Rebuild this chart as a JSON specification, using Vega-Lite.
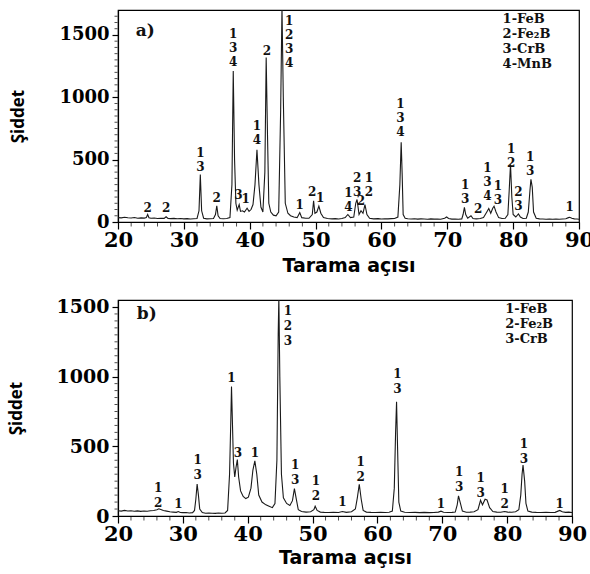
{
"$schema": "https://vega.github.io/schema/vega-lite/v6.json",
"background": "white",
"padding": {"top": 9, "left": 6, "right": 4, "bottom": 2},
"spacing": 21,
"config": {
  "view": {"stroke": "#000", "strokeWidth": 1.2},
  "axis": {"domainColor": "#000", "domainWidth": 1.2, "tickColor": "#000", "labelColor": "#000", "titleColor": "#000", "grid": false, "labelFont": "DejaVu Serif", "labelFontWeight": "bold", "labelOverlap": false, "labelFlush": false}
},
"datasets": {
  "a": [
    {"x":20.0,"y":35},{"x":20.5,"y":33},{"x":21.0,"y":38},{"x":21.5,"y":34},{"x":22.0,"y":32},{"x":22.5,"y":36},{"x":23.0,"y":30},{"x":23.5,"y":33},{"x":24.0,"y":31},{"x":24.3,"y":35},{"x":24.5,"y":60},{"x":24.7,"y":34},{"x":25.0,"y":30},{"x":25.5,"y":32},{"x":26.0,"y":28},{"x":26.5,"y":30},{"x":27.0,"y":29},{"x":27.3,"y":42},{"x":27.6,"y":28},{"x":28.0,"y":27},{"x":28.5,"y":29},{"x":29.0,"y":26},{"x":29.5,"y":28},{"x":30.0,"y":25},{"x":30.5,"y":27},{"x":31.0,"y":24},{"x":31.5,"y":26},{"x":32.0,"y":28},{"x":32.3,"y":90},{"x":32.5,"y":380},{"x":32.7,"y":90},{"x":33.0,"y":30},{"x":33.5,"y":25},{"x":34.0,"y":26},{"x":34.5,"y":28},{"x":34.8,"y":60},{"x":35.0,"y":130},{"x":35.2,"y":50},{"x":35.5,"y":28},{"x":36.0,"y":26},{"x":36.5,"y":28},{"x":37.0,"y":35},{"x":37.3,"y":300},{"x":37.5,"y":1210},{"x":37.7,"y":500},{"x":37.9,"y":150},{"x":38.1,"y":95},{"x":38.4,"y":140},{"x":38.6,"y":85},{"x":38.9,"y":90},{"x":39.2,"y":80},{"x":39.6,"y":110},{"x":39.9,"y":85},{"x":40.2,"y":100},{"x":40.5,"y":140},{"x":40.8,"y":300},{"x":41.1,"y":580},{"x":41.4,"y":300},{"x":41.7,"y":120},{"x":42.0,"y":80},{"x":42.3,"y":400},{"x":42.5,"y":1320},{"x":42.7,"y":700},{"x":42.9,"y":150},{"x":43.2,"y":80},{"x":43.6,"y":55},{"x":44.0,"y":50},{"x":44.4,"y":80},{"x":44.7,"y":900},{"x":44.9,"y":1720},{"x":45.1,"y":1000},{"x":45.4,"y":150},{"x":45.8,"y":70},{"x":46.2,"y":50},{"x":46.7,"y":40},{"x":47.2,"y":35},{"x":47.6,"y":75},{"x":47.9,"y":35},{"x":48.5,"y":30},{"x":49.0,"y":30},{"x":49.5,"y":60},{"x":49.7,"y":170},{"x":49.9,"y":70},{"x":50.2,"y":80},{"x":50.5,"y":127},{"x":50.8,"y":70},{"x":51.2,"y":35},{"x":51.8,"y":28},{"x":52.5,"y":25},{"x":53.0,"y":27},{"x":53.5,"y":24},{"x":54.0,"y":28},{"x":54.5,"y":35},{"x":54.9,"y":60},{"x":55.3,"y":35},{"x":55.8,"y":40},{"x":56.1,"y":150},{"x":56.3,"y":180},{"x":56.6,"y":60},{"x":56.9,"y":90},{"x":57.2,"y":70},{"x":57.5,"y":140},{"x":57.8,"y":60},{"x":58.2,"y":30},{"x":58.8,"y":25},{"x":59.5,"y":27},{"x":60.0,"y":24},{"x":60.5,"y":26},{"x":61.0,"y":25},{"x":61.5,"y":27},{"x":62.0,"y":28},{"x":62.5,"y":40},{"x":62.8,"y":300},{"x":63.0,"y":640},{"x":63.15,"y":380},{"x":63.3,"y":60},{"x":63.6,"y":30},{"x":64.0,"y":26},{"x":64.5,"y":24},{"x":65.0,"y":26},{"x":65.5,"y":23},{"x":66.0,"y":25},{"x":66.5,"y":24},{"x":67.0,"y":22},{"x":67.5,"y":25},{"x":68.0,"y":23},{"x":68.5,"y":24},{"x":69.0,"y":22},{"x":69.6,"y":30},{"x":69.9,"y":40},{"x":70.2,"y":28},{"x":70.7,"y":23},{"x":71.2,"y":24},{"x":71.7,"y":22},{"x":72.2,"y":25},{"x":72.4,"y":60},{"x":72.6,"y":118},{"x":72.8,"y":60},{"x":73.1,"y":30},{"x":73.6,"y":50},{"x":73.9,"y":28},{"x":74.4,"y":25},{"x":75.0,"y":28},{"x":75.5,"y":35},{"x":76.0,"y":80},{"x":76.3,"y":108},{"x":76.6,"y":70},{"x":76.9,"y":110},{"x":77.1,"y":127},{"x":77.4,"y":80},{"x":77.8,"y":35},{"x":78.3,"y":28},{"x":78.8,"y":30},{"x":79.2,"y":60},{"x":79.4,"y":250},{"x":79.6,"y":463},{"x":79.8,"y":200},{"x":80.0,"y":60},{"x":80.4,"y":40},{"x":80.8,"y":65},{"x":81.1,"y":40},{"x":81.5,"y":28},{"x":82.0,"y":30},{"x":82.3,"y":80},{"x":82.55,"y":250},{"x":82.7,"y":342},{"x":82.9,"y":280},{"x":83.1,"y":80},{"x":83.5,"y":30},{"x":84.0,"y":25},{"x":84.5,"y":24},{"x":85.0,"y":22},{"x":85.5,"y":24},{"x":86.0,"y":22},{"x":86.5,"y":23},{"x":87.0,"y":22},{"x":87.5,"y":24},{"x":88.0,"y":26},{"x":88.4,"y":35},{"x":88.6,"y":38},{"x":88.9,"y":30},{"x":89.3,"y":25},{"x":89.7,"y":24},{"x":90.0,"y":22}
  ],
  "b": [
    {"x":20.0,"y":38},{"x":20.5,"y":35},{"x":21.0,"y":40},{"x":21.5,"y":36},{"x":22.0,"y":38},{"x":22.5,"y":34},{"x":23.0,"y":37},{"x":23.5,"y":33},{"x":24.0,"y":36},{"x":24.5,"y":34},{"x":25.0,"y":38},{"x":25.5,"y":40},{"x":26.0,"y":45},{"x":26.3,"y":52},{"x":26.7,"y":45},{"x":27.0,"y":40},{"x":27.5,"y":35},{"x":28.0,"y":30},{"x":28.5,"y":28},{"x":29.0,"y":26},{"x":29.3,"y":32},{"x":29.6,"y":25},{"x":30.0,"y":24},{"x":30.5,"y":25},{"x":31.0,"y":22},{"x":31.5,"y":24},{"x":31.8,"y":40},{"x":32.0,"y":120},{"x":32.2,"y":230},{"x":32.4,"y":150},{"x":32.6,"y":50},{"x":33.0,"y":25},{"x":33.5,"y":20},{"x":34.0,"y":22},{"x":34.5,"y":20},{"x":35.0,"y":19},{"x":35.5,"y":21},{"x":36.0,"y":20},{"x":36.5,"y":22},{"x":36.9,"y":40},{"x":37.2,"y":300},{"x":37.4,"y":700},{"x":37.5,"y":930},{"x":37.6,"y":750},{"x":37.8,"y":380},{"x":38.0,"y":280},{"x":38.2,"y":350},{"x":38.4,"y":405},{"x":38.6,"y":280},{"x":38.9,"y":180},{"x":39.3,"y":140},{"x":39.7,"y":125},{"x":40.1,"y":135},{"x":40.5,"y":200},{"x":40.8,"y":330},{"x":41.1,"y":396},{"x":41.4,"y":300},{"x":41.7,"y":150},{"x":42.2,"y":100},{"x":42.8,"y":80},{"x":43.3,"y":70},{"x":43.8,"y":60},{"x":44.2,"y":90},{"x":44.5,"y":400},{"x":44.7,"y":1300},{"x":44.8,"y":1570},{"x":44.95,"y":1000},{"x":45.2,"y":300},{"x":45.5,"y":130},{"x":46.0,"y":90},{"x":46.5,"y":75},{"x":46.9,"y":110},{"x":47.2,"y":197},{"x":47.5,"y":120},{"x":47.8,"y":45},{"x":48.3,"y":32},{"x":49.0,"y":28},{"x":49.7,"y":30},{"x":50.2,"y":45},{"x":50.4,"y":70},{"x":50.7,"y":40},{"x":51.2,"y":28},{"x":51.8,"y":26},{"x":52.5,"y":25},{"x":53.2,"y":27},{"x":54.0,"y":25},{"x":54.6,"y":32},{"x":55.2,"y":26},{"x":56.0,"y":30},{"x":56.6,"y":50},{"x":56.9,"y":130},{"x":57.2,"y":228},{"x":57.5,"y":120},{"x":57.8,"y":40},{"x":58.3,"y":28},{"x":59.0,"y":26},{"x":59.7,"y":25},{"x":60.5,"y":27},{"x":61.2,"y":25},{"x":61.8,"y":27},{"x":62.3,"y":35},{"x":62.6,"y":200},{"x":62.8,"y":600},{"x":62.95,"y":820},{"x":63.1,"y":500},{"x":63.3,"y":100},{"x":63.6,"y":35},{"x":64.2,"y":27},{"x":65.0,"y":25},{"x":65.8,"y":26},{"x":66.5,"y":24},{"x":67.2,"y":26},{"x":68.0,"y":24},{"x":68.7,"y":25},{"x":69.4,"y":28},{"x":69.8,"y":35},{"x":70.2,"y":27},{"x":70.9,"y":25},{"x":71.5,"y":26},{"x":72.0,"y":28},{"x":72.3,"y":80},{"x":72.5,"y":144},{"x":72.8,"y":90},{"x":73.1,"y":35},{"x":73.7,"y":27},{"x":74.3,"y":28},{"x":74.9,"y":30},{"x":75.5,"y":45},{"x":75.9,"y":113},{"x":76.2,"y":80},{"x":76.6,"y":120},{"x":76.9,"y":115},{"x":77.3,"y":60},{"x":77.8,"y":32},{"x":78.4,"y":28},{"x":79.0,"y":27},{"x":79.6,"y":32},{"x":80.1,"y":28},{"x":80.7,"y":27},{"x":81.3,"y":30},{"x":81.8,"y":45},{"x":82.1,"y":150},{"x":82.3,"y":300},{"x":82.45,"y":365},{"x":82.7,"y":250},{"x":82.9,"y":90},{"x":83.2,"y":35},{"x":83.8,"y":28},{"x":84.5,"y":26},{"x":85.2,"y":25},{"x":86.0,"y":27},{"x":86.7,"y":25},{"x":87.4,"y":26},{"x":88.1,"y":40},{"x":88.5,"y":30},{"x":89.0,"y":26},{"x":89.5,"y":28},{"x":90.0,"y":25}
  ],
  "la": [
    {"x":24.5,"y":150,"t":"2"},{"x":27.3,"y":150,"t":"2"},{"x":32.5,"y":590,"t":"1\n3"},{"x":35.0,"y":235,"t":"2"},{"x":37.5,"y":1545,"t":"1\n3\n4"},{"x":38.3,"y":255,"t":"3"},{"x":39.4,"y":222,"t":"1"},{"x":41.1,"y":810,"t":"1\n4"},{"x":42.6,"y":1410,"t":"2"},{"x":46.0,"y":1655,"t":"1\n2\n3\n4"},{"x":47.6,"y":175,"t":"1"},{"x":49.5,"y":280,"t":"2"},{"x":50.7,"y":235,"t":"1"},{"x":55.0,"y":270,"t":"1\n4"},{"x":56.3,"y":390,"t":"2\n3"},{"x":56.9,"y":210,"t":"2"},{"x":58.1,"y":395,"t":"1\n2"},{"x":62.9,"y":985,"t":"1\n3\n4"},{"x":72.7,"y":335,"t":"1\n3"},{"x":74.7,"y":145,"t":"2"},{"x":76.1,"y":470,"t":"1\n3\n4"},{"x":77.7,"y":330,"t":"1\n3"},{"x":79.7,"y":625,"t":"1\n2"},{"x":80.8,"y":280,"t":"2\n3"},{"x":82.6,"y":565,"t":"1\n3"},{"x":88.6,"y":160,"t":"1"}
  ],
  "lb": [
    {"x":26.2,"y":240,"t":"1\n2"},{"x":29.3,"y":125,"t":"1"},{"x":32.3,"y":435,"t":"1\n3"},{"x":37.5,"y":1025,"t":"1"},{"x":38.5,"y":490,"t":"3"},{"x":41.1,"y":490,"t":"1"},{"x":46.2,"y":1510,"t":"1\n2\n3"},{"x":47.3,"y":405,"t":"1\n3"},{"x":50.5,"y":285,"t":"1\n2"},{"x":54.6,"y":135,"t":"1"},{"x":57.4,"y":420,"t":"1\n2"},{"x":63.1,"y":1055,"t":"1\n3"},{"x":69.8,"y":120,"t":"1"},{"x":72.6,"y":350,"t":"1\n3"},{"x":75.9,"y":305,"t":"1\n3"},{"x":79.6,"y":230,"t":"1\n2"},{"x":82.6,"y":550,"t":"1\n3"},{"x":88.1,"y":125,"t":"1"}
  ],
  "xminor": [{"x":22},{"x":24},{"x":26},{"x":28},{"x":32},{"x":34},{"x":36},{"x":38},{"x":42},{"x":44},{"x":46},{"x":48},{"x":52},{"x":54},{"x":56},{"x":58},{"x":62},{"x":64},{"x":66},{"x":68},{"x":72},{"x":74},{"x":76},{"x":78},{"x":82},{"x":84},{"x":86},{"x":88}],
  "yminora": [{"y":50},{"y":100},{"y":150},{"y":200},{"y":250},{"y":300},{"y":350},{"y":400},{"y":450},{"y":550},{"y":600},{"y":650},{"y":700},{"y":750},{"y":800},{"y":850},{"y":900},{"y":950},{"y":1050},{"y":1100},{"y":1150},{"y":1200},{"y":1250},{"y":1300},{"y":1350},{"y":1400},{"y":1450},{"y":1550},{"y":1600},{"y":1650}],
  "yminorb": [{"y":50},{"y":100},{"y":150},{"y":200},{"y":250},{"y":300},{"y":350},{"y":400},{"y":450},{"y":550},{"y":600},{"y":650},{"y":700},{"y":750},{"y":800},{"y":850},{"y":900},{"y":950},{"y":1050},{"y":1100},{"y":1150},{"y":1200},{"y":1250},{"y":1300},{"y":1350},{"y":1400},{"y":1450}]
},
"vconcat": [
  {
    "width": 461, "height": 212,
    "layer": [
      {
        "data": {"name": "a"},
        "mark": {"type": "line", "color": "#1a1a1a", "strokeWidth": 1.1, "clip": true},
        "encoding": {
          "x": {"field": "x", "type": "quantitative", "scale": {"domain": [20, 90], "nice": false},
            "axis": {"values": [20,30,40,50,60,70,80,90], "format": "d", "tickSize": 7, "tickWidth": 1.2,
              "labelFontSize": 21, "labelPadding": 0, "title": "Tarama açısı", "titleFont": "DejaVu Sans", "titleFontSize": 19, "titleFontWeight": "bold", "titlePadding": 6}},
          "y": {"field": "y", "type": "quantitative", "scale": {"domain": [0, 1700], "nice": false},
            "axis": {"values": [0, 500, 1000, 1500], "format": "d", "tickSize": 6, "tickWidth": 1.2,
              "labelFontSize": 18, "labelPadding": 3, "title": "Şiddet", "titleFont": "Open Sans", "titleFontSize": 17, "titleFontWeight": "bold", "titlePadding": 31}}
        }
      },
      {
        "data": {"name": "xminor"},
        "mark": {"type": "tick", "orient": "vertical", "size": 4, "thickness": 1, "color": "#000", "yOffset": 2.5, "clip": false},
        "encoding": {"x": {"field": "x", "type": "quantitative"}, "y": {"datum": 0}}
      },
      {
        "data": {"name": "yminora"},
        "mark": {"type": "tick", "orient": "horizontal", "size": 3, "thickness": 1, "color": "#000", "xOffset": -2, "clip": false},
        "encoding": {"y": {"field": "y", "type": "quantitative"}, "x": {"datum": 20}}
      },
      {
        "data": {"name": "la"},
        "mark": {"type": "text", "font": "DejaVu Serif", "fontWeight": "bold", "fontSize": 12, "lineHeight": 14, "lineBreak": "\n", "baseline": "top", "align": "center", "color": "#111"},
        "encoding": {"x": {"field": "x", "type": "quantitative"}, "y": {"field": "y", "type": "quantitative"}, "text": {"field": "t"}}
      },
      {
        "data": {"values": [{"x": 22.7, "y": 1530, "t": "a)"}]},
        "mark": {"type": "text", "font": "DejaVu Serif", "fontWeight": "bold", "fontSize": 17, "baseline": "middle", "align": "left", "color": "#111"},
        "encoding": {"x": {"field": "x", "type": "quantitative"}, "y": {"field": "y", "type": "quantitative"}, "text": {"field": "t"}}
      },
      {
        "data": {"values": [{"x": 78.4, "y": 1675, "t": "1-FeB\n2-Fe₂B\n3-CrB\n4-MnB"}]},
        "mark": {"type": "text", "font": "DejaVu Serif", "fontWeight": "bold", "fontSize": 13, "lineHeight": 15, "lineBreak": "\n", "baseline": "top", "align": "left", "color": "#111"},
        "encoding": {"x": {"field": "x", "type": "quantitative"}, "y": {"field": "y", "type": "quantitative"}, "text": {"field": "t"}}
      }
    ]
  },
  {
    "width": 454, "height": 216,
    "layer": [
      {
        "data": {"name": "b"},
        "mark": {"type": "line", "color": "#1a1a1a", "strokeWidth": 1.1, "clip": true},
        "encoding": {
          "x": {"field": "x", "type": "quantitative", "scale": {"domain": [20, 90], "nice": false},
            "axis": {"values": [20,30,40,50,60,70,80,90], "format": "d", "tickSize": 7, "tickWidth": 1.2,
              "labelFontSize": 21, "labelPadding": 0, "title": "Tarama açısı", "titleFont": "DejaVu Sans", "titleFontSize": 19, "titleFontWeight": "bold", "titlePadding": 4}},
          "y": {"field": "y", "type": "quantitative", "scale": {"domain": [0, 1550], "nice": false},
            "axis": {"values": [0, 500, 1000, 1500], "format": "d", "tickSize": 6, "tickWidth": 1.2,
              "labelFontSize": 19, "labelPadding": 3, "title": "Şiddet", "titleFont": "Open Sans", "titleFontSize": 17, "titleFontWeight": "bold", "titlePadding": 31}}
        }
      },
      {
        "data": {"name": "xminor"},
        "mark": {"type": "tick", "orient": "vertical", "size": 4, "thickness": 1, "color": "#000", "yOffset": 2.5, "clip": false},
        "encoding": {"x": {"field": "x", "type": "quantitative"}, "y": {"datum": 0}}
      },
      {
        "data": {"name": "yminorb"},
        "mark": {"type": "tick", "orient": "horizontal", "size": 3, "thickness": 1, "color": "#000", "xOffset": -2, "clip": false},
        "encoding": {"y": {"field": "y", "type": "quantitative"}, "x": {"datum": 20}}
      },
      {
        "data": {"name": "lb"},
        "mark": {"type": "text", "font": "DejaVu Serif", "fontWeight": "bold", "fontSize": 12, "lineHeight": 15, "lineBreak": "\n", "baseline": "top", "align": "center", "color": "#111"},
        "encoding": {"x": {"field": "x", "type": "quantitative"}, "y": {"field": "y", "type": "quantitative"}, "text": {"field": "t"}}
      },
      {
        "data": {"values": [{"x": 22.9, "y": 1446, "t": "b)"}]},
        "mark": {"type": "text", "font": "DejaVu Serif", "fontWeight": "bold", "fontSize": 17, "baseline": "middle", "align": "left", "color": "#111"},
        "encoding": {"x": {"field": "x", "type": "quantitative"}, "y": {"field": "y", "type": "quantitative"}, "text": {"field": "t"}}
      },
      {
        "data": {"values": [{"x": 79.7, "y": 1525, "t": "1-FeB\n2-Fe₂B\n3-CrB"}]},
        "mark": {"type": "text", "font": "DejaVu Serif", "fontWeight": "bold", "fontSize": 13, "lineHeight": 15, "lineBreak": "\n", "baseline": "top", "align": "left", "color": "#111"},
        "encoding": {"x": {"field": "x", "type": "quantitative"}, "y": {"field": "y", "type": "quantitative"}, "text": {"field": "t"}}
      }
    ]
  }
]
}
